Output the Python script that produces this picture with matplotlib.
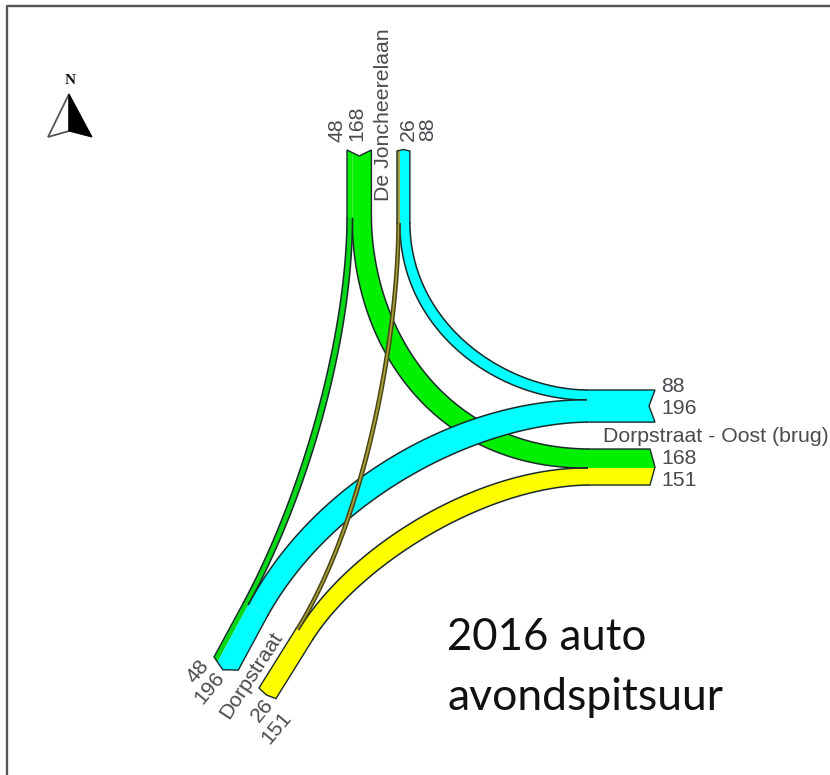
import numpy as np
import matplotlib
matplotlib.use("Agg")
import matplotlib.pyplot as plt
from matplotlib.patches import Polygon

# Flow values (vehicles in the evening rush hour, 2016)
north_out = 48      # De Joncheerelaan -> Dorpstraat (west/south)
north_east = 168    # De Joncheerelaan -> Oost
north_in_south = 26 # Dorpstraat -> De Joncheerelaan
north_in_east = 88  # Oost -> De Joncheerelaan
east_to_south = 196 # Oost -> Dorpstraat
south_to_east = 151 # Dorpstraat -> Oost

CYAN, GREEN, YELLOW = "#00FFFF", "#00F000", "#FFFF00"
DGREEN, OLIVE = "#08D818", "#A8A036"
EDGE = "#1a2a2a"
TXT = "#4a4a50"
SCALE = 0.113

fig = plt.figure(figsize=(8.3, 7.75), dpi=100)
ax = fig.add_axes([0, 0, 1, 1])
ax.set_xlim(0, 830)
ax.set_ylim(775, 0)
ax.axis("off")

# frame: top and left only
ax.plot([7, 7, 830], [775, 5.5, 5.5], color="#555555", lw=1.7, zorder=1)


class Arm:
    def __init__(self, corner, d, perp, length, values, colors, notch):
        self.c = np.array(corner, float)
        self.d = np.array(d, float) / np.hypot(*d)
        self.p = np.array(perp, float) / np.hypot(*perp)
        self.L = length
        self.w = [v * SCALE for v in values]
        self.colors = colors
        self.notch = notch
        self.W = sum(self.w)

    def cap(self, u):
        return self.notch * (1 - abs(2 * u / self.W - 1))

    def base(self, i):
        u = sum(self.w[:i]) + self.w[i] / 2
        return self.c + self.p * u - self.d * self.L

    def draw(self, z=6):
        u0 = 0
        for w, col in zip(self.w, self.colors):
            us = [u0, u0 + w]
            if u0 < self.W / 2 < u0 + w:
                us = [u0, self.W / 2, u0 + w]
            top = [self.c + self.p * u + self.d * self.cap(u) for u in us]
            a = self.c + self.p * u0 - self.d * self.L
            b = self.c + self.p * (u0 + w) - self.d * self.L
            ax.add_patch(Polygon([a] + top + [b], closed=True, fc=col, ec="none", zorder=z))
            u0 += w
        us = [0, self.W / 2, self.W]
        top = np.array([self.c + self.p * u + self.d * self.cap(u) for u in us])
        a = self.c - self.d * self.L
        b = self.c + self.p * self.W - self.d * self.L
        line = np.vstack([a, top, b])
        ax.plot(line[:, 0], line[:, 1], color=EDGE, lw=1.0, zorder=z + 0.1, solid_joinstyle="miter")


def ribbon(A, i, hA, B, j, hB, value, color, z, lw=1.1, edge=EDGE):
    P0, P3 = A.base(i), B.base(j)
    P1, P2 = P0 - A.d * hA, P3 - B.d * hB
    s = np.linspace(0, 1, 120)
    t = s[:, None]
    pts = (1 - t) ** 3 * P0 + 3 * (1 - t) ** 2 * t * P1 + 3 * (1 - t) * t ** 2 * P2 + t ** 3 * P3
    tan = np.gradient(pts, axis=0)
    tan /= np.hypot(tan[:, 0], tan[:, 1])[:, None]
    nor = np.c_[-tan[:, 1], tan[:, 0]]
    w = (value * SCALE / 2 * (1 + 0.15 * np.sin(np.pi * s)))[:, None]
    l, r = pts + nor * w, pts - nor * w
    ax.add_patch(Polygon(np.vstack([l, r[::-1]]), closed=True, fc=color, ec="none", zorder=z))
    ax.plot(l[:, 0], l[:, 1], color=edge, lw=lw, zorder=z + 0.1)
    ax.plot(r[:, 0], r[:, 1], color=edge, lw=lw, zorder=z + 0.1)


north_l = Arm((347, 150), (0, -1), (1, 0), 68, [north_out, north_east], [GREEN, GREEN], -6)
north_r = Arm((397, 151), (0, -1), (1, 0), 72, [north_in_south, north_in_east], [OLIVE, CYAN], 1.5)
east_t = Arm((655, 390), (1, 0), (0, 1), 68, [north_in_east, east_to_south], [CYAN, CYAN], -6)
east_b = Arm((650, 449), (1, 0), (0, 1), 62, [north_east, south_to_east], [GREEN, YELLOW], 5)
sw_l = Arm((214, 657), (-0.476, 0.88), (0.88, 0.476), 62, [north_out, east_to_south], [DGREEN, CYAN], 7)
sw_r = Arm((259, 688), (-0.53, 0.85), (0.85, 0.53), 70, [north_in_south, south_to_east], [YELLOW, YELLOW], 2)

# flow ribbons, bottom to top
ribbon(north_l, 1, 118, east_b, 0, 150, north_east, GREEN, 2)
ribbon(sw_r, 1, 95, east_b, 1, 105, south_to_east, YELLOW, 2)
ribbon(north_r, 1, 105, east_t, 0, 85, north_in_east, CYAN, 2)
ribbon(north_l, 0, 115, sw_l, 0, 130, north_out, DGREEN, 3)
ribbon(sw_l, 1, 140, east_t, 1, 115, east_to_south, CYAN, 4)
ribbon(north_r, 0, 110, sw_r, 0, 130, north_in_south, OLIVE, 5, edge="#4a4618")

for arm in (north_l, north_r, east_t, east_b, sw_l, sw_r):
    arm.draw()

lab = dict(color=TXT, family="Liberation Sans", fontsize=15.3, zorder=10)
for s, x, y in [("48", 337, 130), ("168", 357, 123), ("26", 408, 129), ("88", 428, 129)]:
    ax.text(x, y, s, rotation=90, ha="center", va="center", **lab)
ax.text(383, 115, "De Joncheerelaan", rotation=90, ha="center", va="center", **lab)
for s, x, y in [("88", 661, 386), ("196", 661, 408), ("168", 661, 459), ("151", 661, 480)]:
    ax.text(x, y, s, ha="left", va="center", **lab)
ax.text(603, 436, "Dorpstraat - Oost (brug)", ha="left", va="center", **lab)
for s, x, y in [("48", 198, 671), ("196", 210, 688), ("26", 262, 710), ("151", 277, 728)]:
    ax.text(x, y, s, rotation=50, ha="center", va="center", **lab)
ax.text(251, 675, "Dorpstraat", rotation=57, ha="center", va="center", **lab)

# caption
ax.text(447, 637, "2016 auto", family="Lato", fontsize=31.5, color="#111111", ha="left", va="center", zorder=10)
ax.text(447, 697, "avondspitsuur", family="Lato", fontsize=32, color="#111111", ha="left", va="center", zorder=10)

# north arrow
ax.add_patch(Polygon([(69, 94), (48, 137), (69, 131)], closed=True, fc="white", ec="#555555", lw=1.3, zorder=10))
ax.add_patch(Polygon([(69, 94), (92, 137), (69, 131)], closed=True, fc="black", ec="black", lw=0.8, zorder=10))
ax.text(70, 81, "N", family="Liberation Serif", fontweight="bold", fontsize=11, color="#111111",
        ha="center", va="center", zorder=10)

fig.savefig("out.png", dpi=100)
